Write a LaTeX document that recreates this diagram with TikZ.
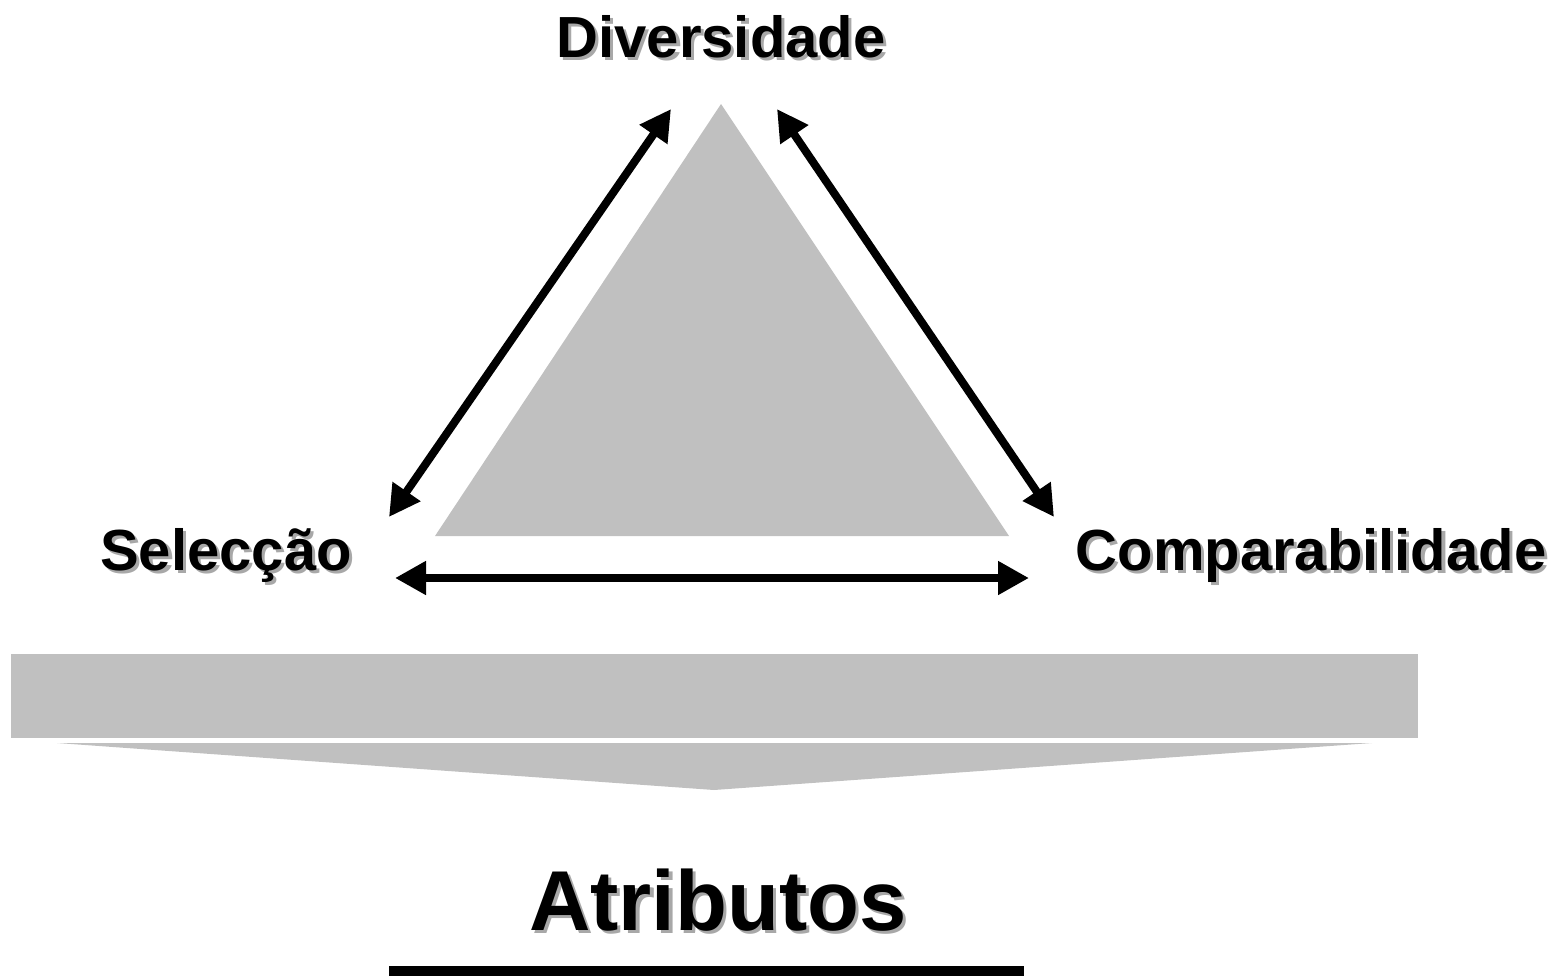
\documentclass[tikz,border=0pt]{standalone}
\usepackage{fontspec}
\setmainfont{Liberation Sans}
\usetikzlibrary{arrows.meta}
\definecolor{fillgray}{HTML}{C0C0C0}
\definecolor{shgray}{HTML}{A8A8A8}
\newcommand\shadowed[1]{\makebox[0pt][l]{\kern1.6pt\raisebox{-1.6pt}{\color{shgray}#1}}#1}
\tikzset{
  lbl/.style={inner sep=0pt, anchor=base, font=\bfseries\fontsize{29pt}{34pt}\selectfont},
  biglbl/.style={inner sep=0pt, anchor=base, font=\bfseries\fontsize{42.5pt}{50pt}\selectfont},
  dbl/.style={line width=4pt, draw=black,
    {Triangle[length=15.5pt,width=16pt]}-{Triangle[length=15.5pt,width=16pt]}},
  shapefill/.style={fill=fillgray, draw=none}
}
\begin{document}
\begin{tikzpicture}[x=0.5pt,y=-0.5pt]
\useasboundingbox (0,0) rectangle (1565,976);
% grey triangle
\fill[fillgray] (721,104) -- (1009,536) -- (435,536) -- cycle;
% grey bar
\fill[fillgray] (11,654) rectangle (1418,738);
% flat downward wedge
\fill[fillgray] (57,743) -- (1372,743) -- (714,790) -- cycle;
% labels
\node[lbl] (div) at (721,57) {\shadowed{Diversidade}};
\node[lbl] (sel) at (226,570) {\shadowed{Selecção}};
\node[lbl] (comp) at (1311,570) {\shadowed{Comparabilidade}};
\node[biglbl] (atr) at (718,930) {\shadowed{Atributos}};
% arrow end points
\coordinate (l1) at (671,109);
\coordinate (l2) at (389,517);
\coordinate (r1) at (777,109);
\coordinate (r2) at (1054,517);
\coordinate (h1) at (395,578);
\coordinate (h2) at (1029,578);
\draw[dbl] (l1) -- (l2);
\draw[dbl] (r1) -- (r2);
\draw[dbl] (h1) -- (h2);
% underline
\coordinate (u1) at (389,971);
\coordinate (u2) at (1024,971);
\draw[line width=5pt] (u1) -- (u2);
\end{tikzpicture}
\end{document}
